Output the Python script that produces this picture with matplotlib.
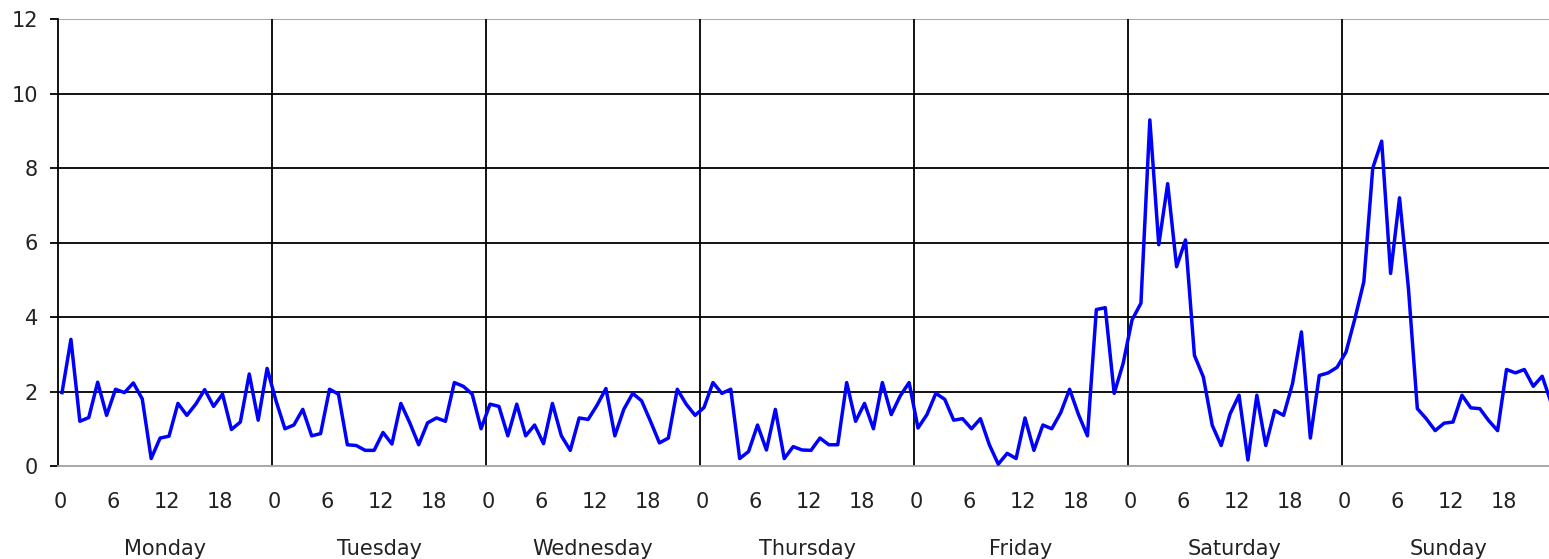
#!/usr/bin/env python3
"""Hourly activity over one week, drawn in an old-spreadsheet line-chart style."""

import matplotlib
matplotlib.use("Agg")
import matplotlib.pyplot as plt
import numpy as np
from matplotlib.transforms import blended_transform_factory

# hourly values, one list per day
monday = [1.97, 3.4, 1.2, 1.3, 2.25, 1.36, 2.06, 1.97, 2.23, 1.8, 0.2, 0.75,
          0.8, 1.68, 1.36, 1.66, 2.05, 1.6, 1.93, 0.98, 1.18, 2.47, 1.23, 2.62]
tuesday = [1.75, 1.0, 1.1, 1.52, 0.81, 0.87, 2.06, 1.93, 0.57, 0.55, 0.42, 0.42,
           0.9, 0.59, 1.68, 1.16, 0.57, 1.16, 1.29, 1.2, 2.24, 2.14, 1.93, 1.0]
wednesday = [1.66, 1.6, 0.81, 1.66, 0.81, 1.1, 0.6, 1.68, 0.81, 0.42, 1.29, 1.25,
             1.63, 2.08, 0.81, 1.52, 1.95, 1.75, 1.2, 0.62, 0.75, 2.06, 1.66, 1.36]
thursday = [1.57, 2.24, 1.95, 2.06, 0.2, 0.39, 1.1, 0.43, 1.52, 0.2, 0.52, 0.43,
            0.42, 0.75, 0.57, 0.57, 2.24, 1.2, 1.68, 1.0, 2.24, 1.38, 1.88, 2.24]
friday = [1.02, 1.38, 1.95, 1.79, 1.23, 1.27, 1.0, 1.27, 0.57, 0.05, 0.34, 0.2,
          1.29, 0.42, 1.1, 1.0, 1.43, 2.06, 1.38, 0.81, 4.2, 4.25, 1.95, 2.75]
saturday = [3.92, 4.37, 9.29, 5.94, 7.58, 5.35, 6.07, 2.97, 2.39, 1.09, 0.55, 1.4,
            1.9, 0.16, 1.9, 0.55, 1.49, 1.36, 2.21, 3.6, 0.75, 2.43, 2.5, 2.65]
sunday = [3.06, 3.96, 4.95, 8.0, 8.72, 5.17, 7.2, 4.77, 1.54, 1.27, 0.95, 1.15,
          1.18, 1.9, 1.56, 1.54, 1.22, 0.95, 2.59, 2.5, 2.59, 2.14, 2.41, 1.7]

day_names = ["Monday", "Tuesday", "Wednesday", "Thursday", "Friday", "Saturday", "Sunday"]
hour_labels = ["0", "6", "12", "18"]
y_ticks = [0, 2, 4, 6, 8, 10, 12]

plt.rcParams["font.family"] = ["DejaVu Sans"]

values = np.array(monday + tuesday + wednesday + thursday + friday + saturday + sunday)
hours = np.arange(len(values)) + 0.45  # points sit in the middle of each hour slot

W, H = 1549, 559
fig = plt.figure(figsize=(W / 100, H / 100), dpi=100)
ax = fig.add_axes([58 / W, 1 - 466 / H, 1498 / W, 447 / H])

ax.plot(hours, values, color="#0000ff", lw=2.5, zorder=3)

ax.set_xlim(0, 168)
ax.set_ylim(0, 12)

# horizontal grid
ax.set_yticks(y_ticks)
ax.set_yticklabels([str(t) for t in y_ticks], fontsize=15, color="#222222")
ax.tick_params(axis="y", direction="out", length=5.8, width=1.3, pad=8.5, color="black")
for t in y_ticks[1:-1]:
    ax.axhline(t, color="black", lw=1.3, zorder=1)
ax.axhline(12, color="#a0a0a0", lw=1.3, zorder=1)

# vertical day separators
for d in range(1, 7):
    ax.axvline(24 * d, color="black", lw=1.3, zorder=1)

# hour labels under each day
pos = [24 * d + int(h) + 0.2 for d in range(7) for h in hour_labels]
ax.set_xticks(pos)
ax.set_xticklabels(hour_labels * 7, fontsize=15, color="#222222")
ax.tick_params(axis="x", length=0, pad=19)

trans = blended_transform_factory(ax.transData, ax.transAxes)
for d, name in enumerate(day_names):
    ax.text(24 * d + 12, -0.163, name, transform=trans, ha="center", va="top",
            fontsize=15, color="#222222")

for side in ("top", "right"):
    ax.spines[side].set_visible(False)
ax.spines["left"].set_color("black")
ax.spines["left"].set_linewidth(1.3)
ax.spines["bottom"].set_color("#a0a0a0")
ax.spines["bottom"].set_linewidth(1.3)

fig.savefig("out.png", dpi=100)
